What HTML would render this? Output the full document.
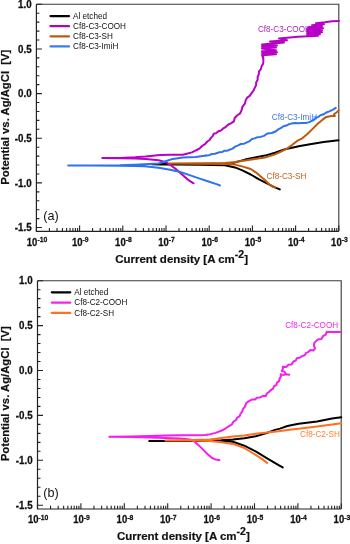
<!DOCTYPE html>
<html><head><meta charset="utf-8"><title>Tafel plots</title>
<style>html,body{margin:0;padding:0;background:#fff;width:350px;height:544px;overflow:hidden;}svg{display:block;will-change:transform;}</style>
</head><body>
<svg width="350" height="544" viewBox="0 0 350 544">
<style>
text{font-family:"Liberation Sans", sans-serif;}
.tl{font-size:9.8px;font-weight:bold;fill:#111;stroke:#111;stroke-width:0.25px;}
.sup{font-size:7px;}
.tt{font-size:11.5px;white-space:pre;font-weight:bold;fill:#111;stroke:#111;stroke-width:0.2px;}
.sup2{font-size:10.5px;}
.ty{font-size:11.3px;}
.lg{font-size:8px;fill:#111;}
.tag{font-size:12.6px;fill:#111;}
.c{fill:none;stroke-width:2;stroke-linejoin:round;stroke-linecap:round;}
</style>
<rect width="350" height="544" fill="#fff"/>
<path d="M36.4 4.3H338.8V231.3" fill="none" stroke="#3a3a3a" stroke-width="1.1"/>
<path d="M36.4 4.3V231.3H338.8" fill="none" stroke="#222" stroke-width="1.2"/>
<path d="M36.4 4.3h5.5M36.4 13.23h3M36.4 22.16h3M36.4 31.09h3M36.4 40.02h3M36.4 48.95h5.5M36.4 57.88h3M36.4 66.81h3M36.4 75.74h3M36.4 84.67h3M36.4 93.6h5.5M36.4 102.53h3M36.4 111.46h3M36.4 120.39h3M36.4 129.32h3M36.4 138.25h5.5M36.4 147.18h3M36.4 156.11h3M36.4 165.04h3M36.4 173.97h3M36.4 182.9h5.5M36.4 191.83h3M36.4 200.76h3M36.4 209.69h3M36.4 218.62h3M36.4 227.55h5.5M36.4 231.3v-5.7M49.4 231.3v-3.3M57.01 231.3v-3.3M62.41 231.3v-3.3M66.6 231.3v-3.3M70.02 231.3v-3.3M72.91 231.3v-3.3M75.41 231.3v-3.3M77.62 231.3v-3.3M79.6 231.3v-5.7M92.6 231.3v-3.3M100.21 231.3v-3.3M105.61 231.3v-3.3M109.8 231.3v-3.3M113.22 231.3v-3.3M116.11 231.3v-3.3M118.61 231.3v-3.3M120.82 231.3v-3.3M122.8 231.3v-5.7M135.8 231.3v-3.3M143.41 231.3v-3.3M148.81 231.3v-3.3M153 231.3v-3.3M156.42 231.3v-3.3M159.31 231.3v-3.3M161.81 231.3v-3.3M164.02 231.3v-3.3M166 231.3v-5.7M179 231.3v-3.3M186.61 231.3v-3.3M192.01 231.3v-3.3M196.2 231.3v-3.3M199.62 231.3v-3.3M202.51 231.3v-3.3M205.01 231.3v-3.3M207.22 231.3v-3.3M209.2 231.3v-5.7M222.2 231.3v-3.3M229.81 231.3v-3.3M235.21 231.3v-3.3M239.4 231.3v-3.3M242.82 231.3v-3.3M245.71 231.3v-3.3M248.21 231.3v-3.3M250.42 231.3v-3.3M252.4 231.3v-5.7M265.4 231.3v-3.3M273.01 231.3v-3.3M278.41 231.3v-3.3M282.6 231.3v-3.3M286.02 231.3v-3.3M288.91 231.3v-3.3M291.41 231.3v-3.3M293.62 231.3v-3.3M295.6 231.3v-5.7M308.6 231.3v-3.3M316.21 231.3v-3.3M321.61 231.3v-3.3M325.8 231.3v-3.3M329.22 231.3v-3.3M332.11 231.3v-3.3M334.61 231.3v-3.3M336.82 231.3v-3.3M338.8 231.3v-5.7" stroke="#222" stroke-width="1.1" fill="none"/>
<text transform="translate(31.6 8) scale(1.0 1.09)" text-anchor="end" class="tl">1.0</text>
<text transform="translate(31.6 52.65) scale(1.0 1.09)" text-anchor="end" class="tl">0.5</text>
<text transform="translate(31.6 97.3) scale(1.0 1.09)" text-anchor="end" class="tl">0.0</text>
<text transform="translate(31.6 141.95) scale(1.0 1.09)" text-anchor="end" class="tl">-0.5</text>
<text transform="translate(31.6 186.6) scale(1.0 1.09)" text-anchor="end" class="tl">-1.0</text>
<text transform="translate(31.6 231.25) scale(1.0 1.09)" text-anchor="end" class="tl">-1.5</text>
<text transform="translate(37 246) scale(0.97 1.14)" text-anchor="middle" class="tl">10<tspan class="sup" dy="-3.1">-10</tspan></text>
<text transform="translate(80.2 246) scale(0.97 1.14)" text-anchor="middle" class="tl">10<tspan class="sup" dy="-3.1">-9</tspan></text>
<text transform="translate(123.4 246) scale(0.97 1.14)" text-anchor="middle" class="tl">10<tspan class="sup" dy="-3.1">-8</tspan></text>
<text transform="translate(166.6 246) scale(0.97 1.14)" text-anchor="middle" class="tl">10<tspan class="sup" dy="-3.1">-7</tspan></text>
<text transform="translate(209.8 246) scale(0.97 1.14)" text-anchor="middle" class="tl">10<tspan class="sup" dy="-3.1">-6</tspan></text>
<text transform="translate(253 246) scale(0.97 1.14)" text-anchor="middle" class="tl">10<tspan class="sup" dy="-3.1">-5</tspan></text>
<text transform="translate(296.2 246) scale(0.97 1.14)" text-anchor="middle" class="tl">10<tspan class="sup" dy="-3.1">-4</tspan></text>
<text transform="translate(339.4 246) scale(0.97 1.14)" text-anchor="middle" class="tl">10<tspan class="sup" dy="-3.1">-3</tspan></text>
<text x="181.6" y="263.2" text-anchor="middle" class="tt">Current density [A cm<tspan class="sup2" dy="-5.3">-2</tspan><tspan dy="5.3">]</tspan></text>
<text transform="translate(9 117.2) rotate(-90)" text-anchor="middle" class="tt ty">Potential vs. Ag/AgCl  [V]</text>
<text x="43.3" y="219.6" class="tag">(a)</text>
<path d="M50.5 16.1h18.5" stroke="#000" stroke-width="2.2" stroke-linecap="round"/>
<text transform="translate(73 18.9) scale(1.02 1.14)" class="lg">Al etched</text>
<path d="M50.5 26.2h18.5" stroke="#b000c0" stroke-width="2.2" stroke-linecap="round"/>
<text transform="translate(73 29) scale(1.02 1.14)" class="lg">Cf8-C3-COOH</text>
<path d="M50.5 36.3h18.5" stroke="#c05a10" stroke-width="2.2" stroke-linecap="round"/>
<text transform="translate(73 39.1) scale(1.02 1.14)" class="lg">Cf8-C3-SH</text>
<path d="M50.5 46.4h18.5" stroke="#3a7df0" stroke-width="2.2" stroke-linecap="round"/>
<text transform="translate(73 49.2) scale(1.02 1.14)" class="lg">Cf8-C3-ImiH</text>
<path d="M37.5 280.7H341.2V509" fill="none" stroke="#3a3a3a" stroke-width="1.1"/>
<path d="M37.5 280.7V509H341.2" fill="none" stroke="#222" stroke-width="1.2"/>
<path d="M37.5 280.7h5.5M37.5 289.68h3M37.5 298.66h3M37.5 307.64h3M37.5 316.62h3M37.5 325.6h5.5M37.5 334.58h3M37.5 343.56h3M37.5 352.54h3M37.5 361.52h3M37.5 370.5h5.5M37.5 379.48h3M37.5 388.46h3M37.5 397.44h3M37.5 406.42h3M37.5 415.4h5.5M37.5 424.38h3M37.5 433.36h3M37.5 442.34h3M37.5 451.32h3M37.5 460.3h5.5M37.5 469.28h3M37.5 478.26h3M37.5 487.24h3M37.5 496.22h3M37.5 505.2h5.5M37.5 509v-5.7M50.56 509v-3.3M58.21 509v-3.3M63.63 509v-3.3M67.84 509v-3.3M71.27 509v-3.3M74.18 509v-3.3M76.69 509v-3.3M78.91 509v-3.3M80.9 509v-5.7M93.96 509v-3.3M101.61 509v-3.3M107.03 509v-3.3M111.24 509v-3.3M114.67 509v-3.3M117.58 509v-3.3M120.09 509v-3.3M122.31 509v-3.3M124.3 509v-5.7M137.36 509v-3.3M145.01 509v-3.3M150.43 509v-3.3M154.64 509v-3.3M158.07 509v-3.3M160.98 509v-3.3M163.49 509v-3.3M165.71 509v-3.3M167.7 509v-5.7M180.76 509v-3.3M188.41 509v-3.3M193.83 509v-3.3M198.04 509v-3.3M201.47 509v-3.3M204.38 509v-3.3M206.89 509v-3.3M209.11 509v-3.3M211.1 509v-5.7M224.16 509v-3.3M231.81 509v-3.3M237.23 509v-3.3M241.44 509v-3.3M244.87 509v-3.3M247.78 509v-3.3M250.29 509v-3.3M252.51 509v-3.3M254.5 509v-5.7M267.56 509v-3.3M275.21 509v-3.3M280.63 509v-3.3M284.84 509v-3.3M288.27 509v-3.3M291.18 509v-3.3M293.69 509v-3.3M295.91 509v-3.3M297.9 509v-5.7M310.96 509v-3.3M318.61 509v-3.3M324.03 509v-3.3M328.24 509v-3.3M331.67 509v-3.3M334.58 509v-3.3M337.09 509v-3.3M339.31 509v-3.3M341.3 509v-5.7" stroke="#222" stroke-width="1.1" fill="none"/>
<text transform="translate(32.6 284.4) scale(1.0 1.09)" text-anchor="end" class="tl">1.0</text>
<text transform="translate(32.6 329.3) scale(1.0 1.09)" text-anchor="end" class="tl">0.5</text>
<text transform="translate(32.6 374.2) scale(1.0 1.09)" text-anchor="end" class="tl">0.0</text>
<text transform="translate(32.6 419.1) scale(1.0 1.09)" text-anchor="end" class="tl">-0.5</text>
<text transform="translate(32.6 464) scale(1.0 1.09)" text-anchor="end" class="tl">-1.0</text>
<text transform="translate(32.6 508.9) scale(1.0 1.09)" text-anchor="end" class="tl">-1.5</text>
<text transform="translate(38.1 523.2) scale(0.97 1.14)" text-anchor="middle" class="tl">10<tspan class="sup" dy="-3.1">-10</tspan></text>
<text transform="translate(81.5 523.2) scale(0.97 1.14)" text-anchor="middle" class="tl">10<tspan class="sup" dy="-3.1">-9</tspan></text>
<text transform="translate(124.9 523.2) scale(0.97 1.14)" text-anchor="middle" class="tl">10<tspan class="sup" dy="-3.1">-8</tspan></text>
<text transform="translate(168.3 523.2) scale(0.97 1.14)" text-anchor="middle" class="tl">10<tspan class="sup" dy="-3.1">-7</tspan></text>
<text transform="translate(211.7 523.2) scale(0.97 1.14)" text-anchor="middle" class="tl">10<tspan class="sup" dy="-3.1">-6</tspan></text>
<text transform="translate(255.1 523.2) scale(0.97 1.14)" text-anchor="middle" class="tl">10<tspan class="sup" dy="-3.1">-5</tspan></text>
<text transform="translate(298.5 523.2) scale(0.97 1.14)" text-anchor="middle" class="tl">10<tspan class="sup" dy="-3.1">-4</tspan></text>
<text transform="translate(341.9 523.2) scale(0.97 1.14)" text-anchor="middle" class="tl">10<tspan class="sup" dy="-3.1">-3</tspan></text>
<text x="183.35" y="540.3" text-anchor="middle" class="tt">Current density [A cm<tspan class="sup2" dy="-5.3">-2</tspan><tspan dy="5.3">]</tspan></text>
<text transform="translate(9 393.7) rotate(-90)" text-anchor="middle" class="tt ty">Potential vs. Ag/AgCl  [V]</text>
<text x="43.3" y="496.6" class="tag">(b)</text>
<path d="M51.8 292.3h18.5" stroke="#000" stroke-width="2.2" stroke-linecap="round"/>
<text transform="translate(74.3 295.1) scale(1.02 1.14)" class="lg">Al etched</text>
<path d="M51.8 302.6h18.5" stroke="#f820f0" stroke-width="2.2" stroke-linecap="round"/>
<text transform="translate(74.3 305.4) scale(1.02 1.14)" class="lg">Cf8-C2-COOH</text>
<path d="M51.8 312.9h18.5" stroke="#ff7028" stroke-width="2.2" stroke-linecap="round"/>
<text transform="translate(74.3 315.7) scale(1.02 1.14)" class="lg">Cf8-C2-SH</text>
<text transform="translate(257.9 31.7) scale(1.02 1.14)" class="lg" style="fill:#b41cc4">Cf8-C3-COOH</text>
<text transform="translate(271.8 119.6) scale(1.02 1.14)" class="lg" style="fill:#3a78f0">Cf8-C3-ImiH</text>
<text transform="translate(266.5 178.6) scale(1.02 1.14)" class="lg" style="fill:#c0601c">Cf8-C3-SH</text>
<path class="c" d="M279.8,189.4 L274.3,187.1 L266.4,183.2 L258.6,179.2 L250.7,174.5 L242.9,170.6 L235.0,167.4 L225.0,165.2 L200.0,164.8 L175.0,164.5 L160.0,164.4 L152.0,164.3 L160.0,164.1 L200.0,163.9 L225.0,163.6 L233.0,163.0 L245.0,159.6 L255.0,157.6 L265.0,155.6 L275.0,152.8 L285.0,149.2 L300.0,146.1 L310.0,144.2 L323.6,142.1 L338.5,140.3" stroke="#000" stroke-width="2.3" />
<path class="c" d="M193.6,183.3 L188.9,180.4 L182.6,175.0 L176.3,169.4 L171.4,165.7 L165.7,162.1 L158.6,160.2 L145.7,159.0 L135.0,158.6 L120.0,158.3 L102.3,158.1 L120.0,157.9 L135.0,157.3 L145.7,156.6 L152.9,155.7 L160.0,154.9 L170.0,154.7 L182.9,154.7 L186.7,153.7 L191.9,152.4 L197.0,149.9" stroke="#b800c6" stroke-width="2.5" />
<path class="c" d="M197.0,149.9 L199.8,148.3 L202.1,146.0 L205.0,144.1 L207.3,141.5 L209.6,140.0 L211.1,137.6 L212.8,135.9 L213.7,133.8 L216.3,133.1 L218.4,131.2 L221.0,130.5 L223.4,128.3 L226.1,126.6 L228.4,124.5 L231.3,123.1 L233.9,121.4 L234.7,118.0 L237.0,115.5 L239.9,113.7 L241.6,110.3 L242.4,106.9 L245.0,103.4 L245.7,100.3 L247.2,97.6 L249.7,95.9 L251.4,93.4 L253.5,90.7 L254.9,87.7 L256.1,85.1 L256.2,82.2 L257.7,79.7 L257.6,77.0 L258.8,74.4 L258.9,71.7 L260.9,69.1 L261.7,66.0 L263.1,63.9 L263.4,61.4 L263.2,57.0" stroke="#b800c6" stroke-width="2.8" />
<path class="c" d="M263.2,58.0 L262.0,55.2 L276.0,54.3 L262.0,53.2 L277.0,52.2 L262.0,51.2 L276.0,50.3 L268.0,49.4 L262.0,48.6 L276.0,47.6 L262.0,46.6 L277.0,45.6 L262.0,44.6 L284.0,42.6 L270.0,41.6 L287.0,40.2 L279.0,38.6 L298.0,36.8 L318.0,35.8 L307.0,35.2 L320.0,34.2 L307.0,33.2 L322.0,32.2 L307.0,31.2 L322.0,30.2 L307.0,29.2 L323.0,28.2 L308.0,27.2 L322.0,26.2 L312.0,25.2 L324.0,24.2 L316.0,23.2 L325.0,22.2 L332.0,21.2 L339.0,20.9" stroke="#b800c6" stroke-width="2.8" />
<path class="c" d="M275.5,187.6 L273.5,187.1 L269.6,184.7 L264.9,180.0 L260.2,176.1 L255.4,172.1 L250.7,169.0 L242.9,166.6 L235.0,164.6 L225.0,164.0 L200.0,163.8 L169.5,163.6 L200.0,163.3 L225.0,163.0 L235.0,162.0 L245.0,160.4 L255.0,159.0 L265.0,157.6 L275.0,154.4 L281.0,151.6 L286.9,148.6 L292.0,145.1 L297.1,140.9 L302.3,138.3 L307.4,134.0 L312.6,128.9 L317.7,123.7 L322.9,119.4 L326.3,116.9 L331.4,116.0 L334.9,116.0 L334.0,114.3 L337.4,111.7 L338.6,110.3" stroke="#c05a0a" stroke-width="2.4" />
<path class="c" d="M220.0,185.5 L217.2,184.4 L207.7,181.2 L198.3,178.1 L188.9,174.9 L179.4,171.8 L170.0,169.8 L158.6,167.8 L144.3,166.2 L135.0,165.9 L120.0,165.7 L90.0,165.6 L68.2,165.6 L90.0,165.5 L120.0,165.2 L135.0,164.7 L144.3,164.2 L158.6,163.5 L167.1,160.7 L172.9,158.9 L182.9,157.6 L195.7,156.9 L206.0,155.4" stroke="#2f72ee" stroke-width="2.5" />
<path class="c" d="M206.0,155.4 L209.1,155.2 L211.9,154.0 L215.0,153.7 L219.3,152.3 L222.0,152.1 L224.4,150.7 L227.1,150.8 L229.6,149.7 L232.6,148.6 L235.1,146.6 L238.1,145.4 L240.9,144.0 L244.1,143.7 L246.9,142.4 L249.7,141.1 L252.0,139.0 L254.6,138.4 L257.1,137.3 L260.6,136.9 L264.0,135.9 L267.4,133.5 L271.7,133.0 L276.0,131.3 L278.3,129.3 L281.1,127.9 L283.5,126.2 L286.3,125.6 L288.7,124.3 L291.4,123.6 L295.0,122.9 L298.6,123.2 L302.1,122.9 L305.8,123.0 L309.3,122.1 L313.6,120.0 L315.4,118.0 L317.9,117.1 L320.5,115.3 L323.6,114.3 L326.3,112.5 L329.3,111.4 L333.6,109.3 L335.7,107.9" stroke="#2f72ee" stroke-width="2.9" />
<text transform="translate(285.2 328.3) scale(1.02 1.14)" class="lg" style="fill:#f028f0">Cf8-C2-COOH</text>
<text transform="translate(300 437.2) scale(1.02 1.14)" class="lg" style="fill:#ff8030">Cf8-C2-SH</text>
<path class="c" d="M282.7,467.4 L278.6,465.1 L267.1,458.3 L255.7,451.4 L244.3,445.7 L232.9,441.8 L221.4,441.1 L210.0,441.0 L180.0,441.1 L149.2,441.1 L180.0,440.9 L210.0,440.7 L221.4,440.3 L232.9,439.6 L244.3,438.3 L255.7,436.2 L265.0,433.6 L271.0,431.5 L275.0,429.9 L280.0,428.6 L287.4,426.0 L298.6,423.8 L317.1,421.4 L332.0,418.6 L341.3,417.3" stroke="#000" stroke-width="2.4" />
<path class="c" d="M219.4,460.1 L215.4,459.4 L212.0,458.0 L207.4,454.0 L202.9,449.4 L198.3,444.9 L194.3,441.4 L190.0,439.4 L180.0,438.5 L165.0,438.0 L150.0,437.4 L130.0,436.9 L109.3,436.7 L130.0,436.5 L150.0,436.1 L165.0,435.6 L180.0,435.3 L195.0,435.2 L205.0,435.0 L208.7,434.6 L215.6,432.9 L222.4,430.3 L229.3,426.0" stroke="#f51ef0" stroke-width="2.4" />
<path class="c" d="M229.3,426.0 L231.9,424.4 L233.5,421.6 L236.1,420.0 L237.1,417.7 L239.5,416.4 L240.4,414.0 L242.2,411.7 L243.0,408.9 L244.7,407.1 L246.4,402.9 L249.9,400.6 L252.3,399.4 L255.0,399.4 L257.1,397.7 L260.0,397.4 L262.7,396.1 L265.7,396.0 L266.9,393.5 L269.1,391.7 L270.9,390.0" stroke="#f51ef0" stroke-width="2.7" />
<path class="c" d="M270.9,390.0 L273.1,388.7 L274.1,386.1 L276.4,385.0 L276.9,382.6 L279.2,381.1 L279.6,378.6 L280.9,376.6 L280.7,374.3 L283.5,374.9 L286.5,374.2 L289.3,374.7 L286.4,374.3 L284.5,371.8 L281.8,371.1 L282.9,369.1 L282.9,366.8 L286.0,367.1 L288.4,364.7 L291.4,364.6 L293.6,361.4 L295.9,360.5 L296.8,358.2 L299.7,357.8 L302.1,356.1 L304.7,355.3 L306.2,352.8 L308.6,351.8 L310.4,350.0 L313.3,350.5 L315.0,348.6 L313.9,345.4 L314.3,342.9 L316.1,341.1 L318.4,339.2 L321.4,338.9 L323.0,336.2 L325.7,334.6 L326.8,331.9" stroke="#f51ef0" stroke-width="2.8" />
<path class="c" d="M326.8,331.9 L340.7,331.9" stroke="#f51ef0" stroke-width="2.4" />
<path class="c" d="M267.1,462.9 L262.6,459.4 L255.7,454.9 L244.3,448.0 L232.9,443.9 L221.4,442.3 L210.0,441.0 L190.0,440.6 L165.4,440.5 L190.0,440.1 L210.0,439.4 L221.4,437.9 L232.9,436.6 L244.3,435.4 L255.7,433.8 L267.1,432.5 L278.6,431.2 L289.3,429.7 L298.6,428.8 L317.1,426.6 L341.3,423.2" stroke="#ff6f1e" stroke-width="2.4" />
</svg>
</body></html>
